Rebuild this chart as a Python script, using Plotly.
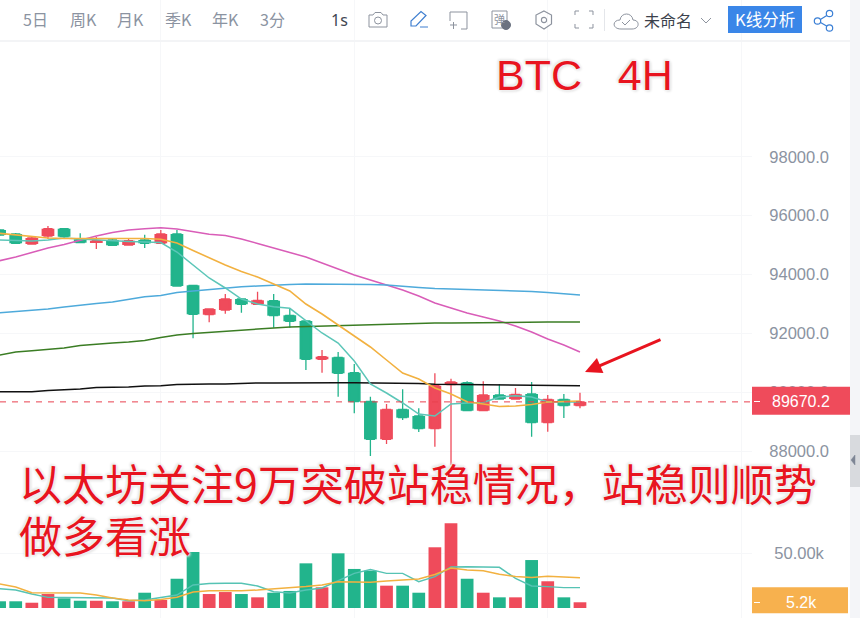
import plotly.graph_objects as go

W, H = 860, 618
bar_index = list(range(37))
opens = [95514,95378,95038,95310,95558,95198,95096,95174,95004,95174,95062,95378,93634,92634,92794,93168,92988,93110,92614,92420,91118,91186,90662,89690,88398,89418,89190,88758,90261,90322,89370,89904,89768,89938,88962,89758,89540]
highs = [95548,95412,95310,95650,95582,95402,95276,95242,95242,95354,95514,95514,93634,92828,93338,93202,93416,93338,92838,92454,91434,91366,90958,89846,89598,90098,89452,90642,90458,90370,90370,90278,90142,90346,89904,89938,89982]
lows = [95310,95038,95014,95208,95242,95062,94868,94987,94987,94902,95038,93586,91832,92376,92668,92702,92964,92192,92192,90754,90662,89846,89282,87830,88238,89054,88646,88146,87524,89360,89360,89758,89758,88486,88656,89122,89452]
closes = [95344,95062,95242,95558,95286,95082,95150,94994,95150,95062,95378,93610,92648,92828,93168,92988,93124,92600,92410,91118,91206,90642,89676,88398,89418,89132,88758,90220,90346,89370,89904,89768,89928,88962,89758,89540,89670]

ma_pink = [94470,94596,94749,94902,95021,95174,95310,95429,95514,95558,95592,95548,95463,95368,95327,95208,95055,94892,94749,94596,94392,94188,93984,93814,93644,93474,93270,93032,92862,92692,92556,92420,92250,92046,91808,91604,91366]
ma_blue = [92702,92743,92794,92828,92896,92964,93015,93066,93151,93243,93287,93389,93440,93491,93542,93586,93610,93644,93661,93678,93678,93678,93678,93661,93644,93593,93559,93525,93508,93491,93484,93474,93457,93423,93389,93338,93304]
ma_green = [91264,91366,91410,91451,91502,91587,91638,91672,91706,91757,91859,91944,91995,92036,92056,92097,92148,92182,92216,92233,92250,92267,92284,92301,92301,92318,92335,92352,92352,92362,92369,92369,92386,92386,92386,92386,92386]
ma_black = [90016,90016,90016,90057,90074,90108,90159,90166,90176,90210,90220,90261,90278,90278,90278,90305,90312,90312,90319,90319,90319,90319,90319,90319,90319,90319,90295,90268,90261,90254,90247,90244,90237,90234,90227,90224,90220]
ma_teal = [95174,95157,95140,95174,95242,95208,95174,95140,95123,95106,95089,94766,94324,93882,93542,93168,92998,92906,92852,92420,92012,91672,91060,90278,89972,89632,89258,89190,89598,89632,89649,89836,89880,89836,89666,89666,89666]
ma_orange = [95402,95344,95310,95242,95225,95225,95232,95242,95242,95225,95198,95072,94817,94562,94324,94103,93916,93678,93440,92998,92658,92284,91910,91536,91094,90652,90448,90142,89938,89676,89598,89513,89530,89581,89666,89683,89700]

volumes_k = [6.1,6.1,4.8,12.7,8.8,6.6,6.6,6.1,6.1,13.9,7.3,26.6,50.9,12.7,14.5,12.7,9.7,13.9,15.5,40.6,18.8,49.7,35.5,33.9,20.3,20.3,13.9,55.2,77,26.6,13.9,9.7,9.7,43.6,24.3,9.7,5.2]
vol_ma_teal = [17.5,16.4,12.7,9.7,9.5,9.3,9.3,9.1,6.6,7.3,9.5,11.8,20.9,22.3,22.5,22.5,20,14.8,13.6,16.4,18.2,24.5,31.5,35,31.5,31.5,23.9,28.5,37.3,37.5,37,37,27,20,19.4,18.5,18.5]
vol_ma_orange = [21.8,19.1,13.9,13.9,13.9,13.6,11.8,9.1,7.3,6.6,7.7,9.7,14.5,15.6,15.7,15.7,16.4,17.3,18.6,19.5,20.9,23.9,23.6,23.4,24.5,25.2,26.4,30.5,36.4,34.5,33.9,30.6,28.6,27.7,28.8,28.2,27.5]

price_ticks = [88000, 90000, 92000, 94000, 96000, 98000]
vol_ticks = [50]
vol_tick_labels = ["50.00k"]
last_price = 89670.2
last_volume_label = "5.2k"
toolbar_left = [("5日",35),("周K",83),("月K",130),("季K",178),("年K",225),("3分",272)]

RED = "#ef4b5b"
GREEN = "#22b48c"
TXT = "#8b93a1"
ANNO = "#e8141f"

# axis ranges chosen so that bars and prices land on the reference pixels
x_range = [0.025, 46.67]
y_range = [82322, 103334]
y2_range = [-9.09, 552.7]

up_down_colors = [RED if c >= o else GREEN for o, c in zip(opens, closes)]

fig = go.Figure()
fig.add_trace(go.Bar(x=bar_index, y=volumes_k, yaxis="y2", width=0.79,
                     marker=dict(color=up_down_colors, line_width=0), showlegend=False))
fig.add_trace(go.Scatter(x=bar_index, y=vol_ma_teal, yaxis="y2", mode="lines", line=dict(color="#56c3b4", width=1.4), showlegend=False))
fig.add_trace(go.Scatter(x=bar_index, y=vol_ma_orange, yaxis="y2", mode="lines", line=dict(color="#f2b140", width=1.5), showlegend=False))
# candle bodies at the reference's width; the candlestick trace supplies the wicks
fig.add_trace(go.Bar(x=bar_index, y=[abs(c - o) for o, c in zip(opens, closes)], base=[min(o, c) for o, c in zip(opens, closes)],
                     width=0.79, marker=dict(color=up_down_colors, line_width=0), showlegend=False))
fig.add_trace(go.Candlestick(x=bar_index, open=opens, high=highs, low=lows, close=closes,
                             increasing=dict(line=dict(color=RED, width=1.3), fillcolor=RED),
                             decreasing=dict(line=dict(color=GREEN, width=1.3), fillcolor=GREEN),
                             whiskerwidth=0, showlegend=False))
for vals, col, wd in [(ma_pink, "#d95db8", 1.5), (ma_blue, "#4eaadb", 1.5), (ma_green, "#3b7d24", 1.5),
                      (ma_black, "#111111", 1.5), (ma_teal, "#5cc6b8", 1.5), (ma_orange, "#f2b140", 1.6)]:
    fig.add_trace(go.Scatter(x=bar_index, y=vals, mode="lines", line=dict(color=col, width=wd), showlegend=False))


def px(x):
    return x / W


def py(y):
    return 1 - y / H


def path(*cmds):
    out = []
    for c in cmds:
        if isinstance(c, str):
            out.append(c)
        else:
            out.append(f"{px(c[0]):.5f},{py(c[1]):.5f}")
    return " ".join(out)


shapes = []


def sh_path(cmds, color, width=1.2, fill=None):
    shapes.append(dict(type="path", xref="paper", yref="paper", path=path(*cmds), line=dict(color=color, width=width),
                       fillcolor=fill or "rgba(0,0,0,0)", layer="above"))


def sh_rect(x0, y0, x1, y1, fill, line=None, width=0):
    shapes.append(dict(type="rect", xref="paper", yref="paper", x0=px(x0), x1=px(x1), y0=py(y0), y1=py(y1),
                       fillcolor=fill, line=dict(color=line or fill, width=width), layer="above"))


def sh_circle(cx, cy, r, color, width=1.2, fill=None):
    shapes.append(dict(type="circle", xref="paper", yref="paper", x0=px(cx - r), x1=px(cx + r), y0=py(cy - r), y1=py(cy + r),
                       line=dict(color=color, width=width), fillcolor=fill or "rgba(0,0,0,0)", layer="above"))


# chrome
sh_rect(0, 40, 860, 42, "#f3f4f6")
sh_rect(850, 0, 860, 618, "#f4f5f8")
sh_rect(850, 435, 860, 487, "#d8dade")
sh_path(["M", (855, 455), "L", (855, 465), "L", (851, 460), "Z"], "#7d8594", 0.5, "#7d8594")

# last price line and tags
shapes.append(dict(type="line", xref="paper", yref="y", x0=0, x1=px(752), y0=last_price, y1=last_price,
                   line=dict(color="#e8404f", width=1, dash="6px,6px"), layer="above"))
sh_rect(752, 386.7, 850, 414.7, RED)
sh_rect(754, 401, 760, 402, "#ffffff")
sh_rect(752, 587.3, 848, 613.3, "#f7b14e")
sh_rect(754, 602, 760, 603, "#ffffff")

# toolbar icons
G = "#8d939e"
sh_path(["M", (369, 15), "L", (373, 15), "L", (375, 12.5), "L", (381, 12.5), "L", (383, 15), "L", (387, 15),
         "L", (387, 27), "L", (369, 27), "Z"], G, 1)
sh_circle(378, 20.5, 3.5, G, 1)
B = "#3f7fd0"
sh_path(["M", (411, 26), "L", (411, 21), "L", (421, 11.5), "L", (426, 15.5), "L", (416, 26), "Z"], B, 1.2)
sh_path(["M", (420, 27), "L", (428, 27)], B, 1)
sh_path(["M", (450, 12), "L", (467, 12), "L", (467, 29), "L", (461, 29)], G, 1)
sh_path(["M", (450, 12), "L", (450, 21)], G, 1)
sh_path(["M", (450, 25), "L", (457, 25), "M", (453.5, 22), "L", (453.5, 29)], G, 1)
sh_rect(492, 11, 507, 28, "#ffffff", G, 1)
sh_circle(506, 25, 4.5, "#6b7280", 1, "#6b7280")
sh_path(["M", (544, 11), "L", (551.5, 15), "L", (551.5, 24), "L", (544, 29), "L", (536, 24), "L", (536, 15), "Z"], G, 1.2)
sh_circle(544, 20, 2.6, G, 1.1)
for a, b, c in [((575, 15), (575, 11), (579, 11)), ((589, 11), (593, 11), (593, 15)),
                ((575, 24), (575, 28), (579, 28)), ((589, 28), (593, 28), (593, 24))]:
    sh_path(["M", a, "L", b, "L", c], G, 1)
sh_rect(604, 9, 605, 31, "#e4e6ea")
sh_path(["M", (621, 29), "C", (612, 29), (612, 20), (620, 20), "C", (621, 12), (632, 12), (633, 20),
         "C", (640, 20), (640, 29), (632, 29), "Z"], G, 1)
sh_path(["M", (622, 22), "L", (625, 25), "L", (630, 20)], G, 1)
sh_path(["M", (701, 18), "L", (706, 23), "L", (711, 18)], G, 1)
sh_rect(728, 6, 802, 33, "#3a86e8")
S = "#3a7fd5"
sh_path(["M", (830, 13.5), "L", (818, 21), "L", (830, 28)], S, 1.2)
sh_circle(829.5, 13.5, 3.2, S, 1.2, "#ffffff")
sh_circle(817.5, 21, 3.2, S, 1.2, "#ffffff")
sh_circle(829.5, 28, 3.2, S, 1.2, "#ffffff")

annotations = []


def text(t, x, y, size, color, anchor="center", font="Noto Sans CJK SC", **kw):
    annotations.append(dict(text=t, x=px(x), y=py(y), xref="paper", yref="paper", showarrow=False, xanchor=anchor,
                            yanchor="middle", font=dict(size=size, color=color, family=font, **kw)))


text("日", 3, 19.5, 16, TXT, "right")
for label, cx in toolbar_left:
    text(label, cx, 19.5, 16, TXT)
text("1s", 339, 20, 16, "#3f4652", font="Noto Sans")
text("弹", 499, 19, 11, G)
text("未命名", 668, 20, 16, "#3b414c")
text("K线分析", 765, 19.5, 16.5, "#ffffff")
text(f"{last_price:.1f}", 801, 401, 16, "#ffffff", font="Liberation Sans")
text(last_volume_label, 801, 602, 16, "#ffffff", font="Liberation Sans")

halo = "0 0 3px #ffffff, 0 0 3px #ffffff, 1px 1px 3px #c8c8c8, -1px -1px 3px #c8c8c8"
text("BTC   4H", 584, 75, 43, ANNO, font="Liberation Sans", shadow=halo)
text("以太坊关注9万突破站稳情况，站稳则顺势", 17, 482, 43, ANNO, "left", shadow=halo)
text("做多看涨", 17, 534, 43, ANNO, "left", shadow=halo)

annotations.append(dict(x=px(585), y=py(372), xref="paper", yref="paper", ax=77, ay=-33, axref="pixel", ayref="pixel",
                        text="", showarrow=True, arrowhead=2, arrowsize=1.1, arrowwidth=3, arrowcolor=ANNO))

fig.update_layout(
    width=W, height=H, autosize=False, margin=dict(l=0, r=0, t=0, b=0), paper_bgcolor="#ffffff", plot_bgcolor="#ffffff",
    showlegend=False, barmode="overlay", hovermode=False, shapes=shapes, annotations=annotations,
    xaxis=dict(domain=[0, 752 / W], range=x_range, rangeslider=dict(visible=False), tickmode="array",
               tickvals=[10, 22, 34, 46], showticklabels=False, showgrid=True, gridcolor="#f6f7f9", gridwidth=1,
               zeroline=False, showline=False, ticks=""),
    yaxis=dict(range=y_range, side="right", tickmode="array", tickvals=price_ticks, tickformat=".1f", showgrid=True,
               gridcolor="#f6f7f9", zeroline=False, showline=False, ticks="outside", ticklen=13,
               tickcolor="rgba(0,0,0,0)", tickfont=dict(family="Liberation Sans", size=16.5, color=TXT)),
    yaxis2=dict(range=y2_range, side="right", overlaying="y", anchor="x", tickmode="array", tickvals=vol_ticks,
                ticktext=vol_tick_labels, showgrid=True, gridcolor="#f6f7f9", zeroline=False, showline=False,
                ticks="outside", ticklen=18, tickcolor="rgba(0,0,0,0)",
                tickfont=dict(family="Liberation Sans", size=16.5, color=TXT)),
)
fig.write_html("out.html", config={"displayModeBar": False},
               post_script="document.body.style.margin='0';document.body.style.overflow='hidden';")
